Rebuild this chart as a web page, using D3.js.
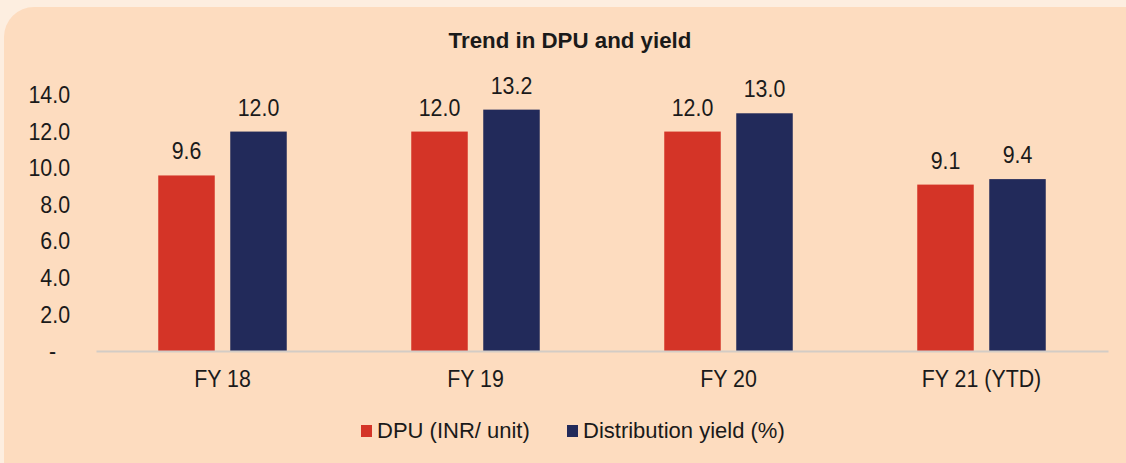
<!DOCTYPE html>
<html><head><meta charset="utf-8">
<script src="https://cdn.jsdelivr.net/npm/d3@7"></script>
<style>body{margin:0;background:#fdeee0;}svg{display:block;font-family:"Liberation Sans",Arial,sans-serif;}</style>
</head><body>
<script>
const categories = ["FY 18", "FY 19", "FY 20", "FY 21 (YTD)"];
const dpu = [9.6, 12.0, 12.0, 9.1];
const yieldPct = [12.0, 13.2, 13.0, 9.4];
const seriesNames = ["DPU (INR/ unit)", "Distribution yield (%)"];
const seriesColors = ["#d43427", "#222a5a"];
const yTicks = [0, 2, 4, 6, 8, 10, 12, 14];

const W = 1126, H = 463;
const FONT = "'Liberation Sans',Arial,sans-serif";
const NUM_SIZE = 24, SX = 0.89;
const svg = d3.select("body").append("svg").attr("width", W).attr("height", H);
svg.append("rect").attr("width", W).attr("height", H).attr("fill", "#fdeee0");
svg.append("rect").attr("x", 4).attr("y", 7).attr("width", W + 30).attr("height", H + 30)
  .attr("rx", 30).attr("fill", "#fddcbf");

svg.append("text").attr("transform", "translate(570,48) scale(0.97,1)").attr("text-anchor", "middle")
  .attr("font-weight", "bold").attr("font-size", 23).attr("fill", "#1a1a1a")
  .text("Trend in DPU and yield");

const x0 = d3.scaleBand().domain(categories).range([96, 1108]).paddingInner(0).paddingOuter(0);
const y = d3.scaleLinear().domain([0, 14]).range([351, 95]);

const yAxis = svg.append("g").attr("transform", "translate(70,0)")
  .call(d3.axisLeft(y).tickValues(yTicks).tickSize(0).tickPadding(0)
    .tickFormat(d => d === 0 ? "-" : d3.format(".1f")(d)));
yAxis.select(".domain").remove();
yAxis.selectAll("text").attr("font-size", NUM_SIZE).attr("fill", "#1a1a1a")
  .attr("font-family", FONT).attr("x", d => d === 0 ? -14 / SX : 0).attr("transform", `scale(${SX},1)`);

const barW = 56.5, gap = 15.5;
const series = [dpu, yieldPct];
series.forEach((vals, si) => {
  const off = si === 0 ? -(gap / 2 + barW) : gap / 2;
  const g = svg.append("g");
  g.selectAll("rect").data(vals).join("rect")
    .attr("x", (d, i) => x0(categories[i]) + x0.bandwidth() / 2 + off)
    .attr("y", d => y(d)).attr("width", barW).attr("height", d => y(0) - y(d))
    .attr("fill", seriesColors[si]);
  g.selectAll("text").data(vals).join("text")
    .attr("transform", (d, i) => `translate(${x0(categories[i]) + x0.bandwidth() / 2 + off + barW / 2},${y(d) - 16}) scale(${SX},1)`)
    .attr("text-anchor", "middle")
    .attr("font-size", NUM_SIZE).attr("fill", "#1a1a1a").text(d => d.toFixed(1));
});

const xAxis = svg.append("g").attr("transform", "translate(0,351)")
  .call(d3.axisBottom(x0).tickSize(0).tickPadding(0));
xAxis.select(".domain").attr("stroke", "#d3ccc5").attr("stroke-width", 2);
xAxis.selectAll("text").attr("font-size", NUM_SIZE).attr("fill", "#1a1a1a")
  .attr("font-family", FONT).attr("y", 36).attr("dy", null).attr("transform", `scale(${SX},1)`);

const legX = [361, 567];
seriesNames.forEach((n, i) => {
  svg.append("rect").attr("x", legX[i]).attr("y", 425).attr("width", 11).attr("height", 12)
    .attr("fill", seriesColors[i]);
  svg.append("text").attr("x", legX[i] + 16).attr("y", 438).attr("font-size", 22)
    .attr("fill", "#1a1a1a").text(n);
});
</script>
</body></html>
